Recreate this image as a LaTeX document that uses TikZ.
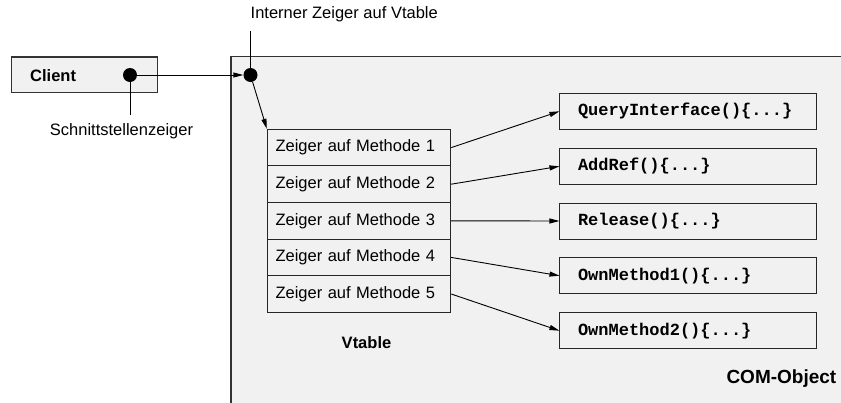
\documentclass[tikz,border=0pt]{standalone}
\usepackage{fontspec}
\setmainfont{Liberation Sans}
\setmonofont{Liberation Mono}
\usetikzlibrary{arrows.meta}
\definecolor{panel}{HTML}{F1F1F1}
\definecolor{edge}{HTML}{333333}
\tikzset{
  x=1pt, y=-1pt,
  every node/.style={font=\fontsize{16.5}{18}\selectfont},
  frame/.style={draw=edge, line width=1.3pt, fill=panel},
  cell/.style={draw=black!85, line width=1pt, fill=panel, minimum width=183.4pt,
    minimum height=36.6pt, inner sep=0pt, text width=167pt, align=left},
  methodbox/.style={draw=black!85, line width=1pt, fill=panel, minimum width=256.7pt,
    minimum height=36pt, inner sep=0pt, text width=220.6pt, align=left,
    font=\fontsize{17}{18}\selectfont\ttfamily\bfseries},
  dot/.style={circle, fill=black, minimum size=14pt, inner sep=0pt},
  arr/.style={line width=0.9pt, -{Triangle[length=10pt,width=5pt]}},
  leader/.style={line width=0.9pt},
  title/.style={font=\fontsize{16.5}{18}\selectfont\bfseries},
}
\begin{document}
\begin{tikzpicture}
\path[use as bounding box] (0,0) rectangle (841,402);
\clip (0,0) rectangle (841,402);
\fill[white] (0,0) rectangle (841,402);

% COM object and client frames
\draw[frame, line width=1.5pt] (231,56.5) rectangle (860,420);
\draw[frame] (11.5,57) rectangle (157.5,92.5);
\node[title, anchor=west, inner sep=0pt] (client) at (30,76) {Client};
\node[title, anchor=east, inner sep=0pt, font=\fontsize{19}{21}\selectfont\bfseries] (com) at (836.5,379) {COM-Object};

% pointers
\node[dot] (cd) at (130,75) {};
\node[dot] (id) at (250.5,75) {};
\coordinate (cl) at (130,115);
\coordinate (il) at (250.5,31);
\draw[leader] (cd) -- (cl);
\draw[leader] (id) -- (il);
\node[anchor=center, inner sep=0pt] (lschnitt) at (121.5,131) {Schnittstellenzeiger};
\node[anchor=west, inner sep=0pt] (lintern) at (250.5,14.5) {Interner Zeiger auf Vtable};

% vtable
\node[cell] (r1) at (359,147.6) {Zeiger auf Methode 1};
\node[cell] (r2) at (359,184.2) {Zeiger auf Methode 2};
\node[cell] (r3) at (359,220.8) {Zeiger auf Methode 3};
\node[cell] (r4) at (359,257.4) {Zeiger auf Methode 4};
\node[cell] (r5) at (359,294.0) {Zeiger auf Methode 5};
\node[title, inner sep=0pt] (vt) at (366.5,342.5) {Vtable};

% method implementations
\node[methodbox] (m1) at (688.3,111.3) {QueryInterface()\{...\}};
\node[methodbox] (m2) at (688.3,166.3) {AddRef()\{...\}};
\node[methodbox] (m3) at (688.3,221.0) {Release()\{...\}};
\node[methodbox] (m4) at (688.3,275.7) {OwnMethod1()\{...\}};
\node[methodbox] (m5) at (688.3,330.7) {OwnMethod2()\{...\}};

% connectors
\draw[arr] (cd) -- (id);
\draw[arr] (id) -- (r1.north west);
\draw[arr] (r1.east) -- (m1.west);
\draw[arr] (r2.east) -- (m2.west);
\draw[arr] (r3.east) -- (m3.west);
\draw[arr] (r4.east) -- (m4.west);
\draw[arr] (r5.east) -- (m5.west);
\end{tikzpicture}
\end{document}
